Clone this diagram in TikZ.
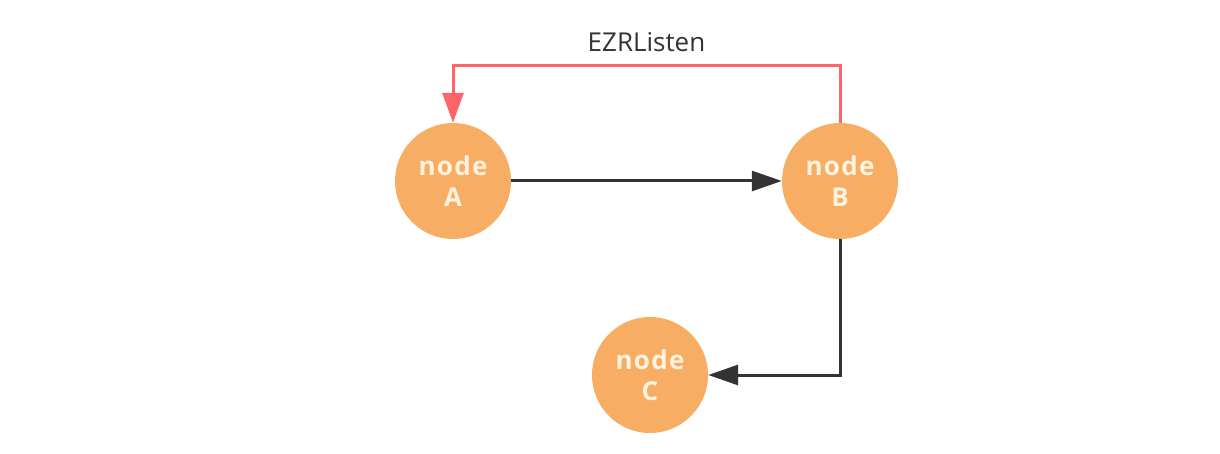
\documentclass[tikz,border=0pt]{standalone}
\usepackage{fontspec}
\setmainfont{Open Sans}
\newfontfamily\nodefont[LetterSpace=5]{Open Sans}
\usetikzlibrary{arrows.meta}
\definecolor{nodeorange}{HTML}{F7AD64}
\definecolor{nodetext}{HTML}{FFF3DF}
\definecolor{listenred}{HTML}{FF6468}
\definecolor{flowgray}{HTML}{333333}
\tikzset{
    state/.style={circle, fill=nodeorange, minimum size=116pt, inner sep=0pt,
        text=nodetext, font=\nodefont\fontsize{26}{31}\selectfont\bfseries, align=center},
    flow/.style={draw=flowgray, line width=3pt, -{Triangle[length=30pt, width=20pt]}},
    listen/.style={draw=listenred, line width=3pt, -{Triangle[length=30pt, width=21pt]}},
}

\begin{document}
\begin{tikzpicture}[x=1pt, y=-1pt]
    \useasboundingbox (0,0) rectangle (1220,454);
    \node[state] (A) at (453,181) {node\\A};
    \node[state] (B) at (840,181) {node\\B};
    \node[state] (C) at (650,375) {node\\C};
    \draw[flow] (A) -- (B);
    \draw[flow] (B) |- (C);
    % listener goes back over the top
    \draw[listen] (B.north) |- (453,66) node[pos=0.75, above=9pt, text=flowgray, font=\fontsize{26}{30}\selectfont] {EZRListen} -- (A.north);
\end{tikzpicture}
\end{document}
